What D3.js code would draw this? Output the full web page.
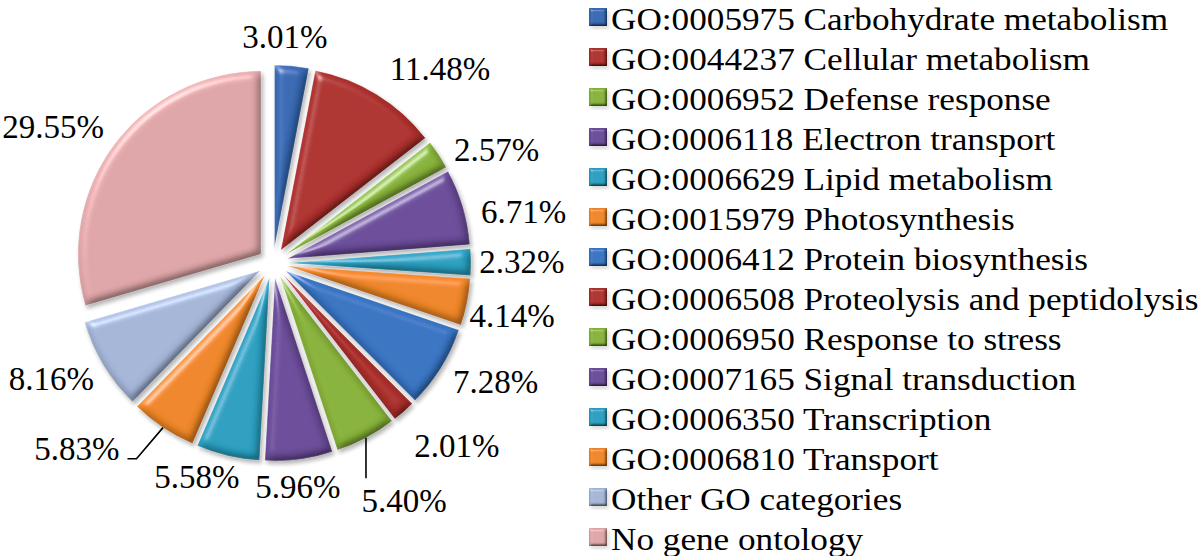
<!DOCTYPE html>
<html>
<head>
<meta charset="utf-8">
<script src="https://cdn.jsdelivr.net/npm/d3@7/dist/d3.min.js"></script>
<style>
  html, body { margin: 0; padding: 0; background: #ffffff; }
  svg { display: block; }
</style>
</head>
<body>
<svg id="chart" width="1200" height="556"></svg>
<script>
// ---------------- data ----------------
const categories = [
  "GO:0005975 Carbohydrate metabolism",
  "GO:0044237 Cellular metabolism",
  "GO:0006952 Defense response",
  "GO:0006118 Electron transport",
  "GO:0006629 Lipid metabolism",
  "GO:0015979 Photosynthesis",
  "GO:0006412 Protein biosynthesis",
  "GO:0006508 Proteolysis and peptidolysis",
  "GO:0006950 Response to stress",
  "GO:0007165 Signal transduction",
  "GO:0006350 Transcription",
  "GO:0006810 Transport",
  "Other GO categories",
  "No gene ontology"
];
const values = [3.01, 11.48, 2.57, 6.71, 2.32, 4.14, 7.28, 2.01, 5.40, 5.96, 5.58, 5.83, 8.16, 29.55];
const percentLabels = values.map(v => v.toFixed(2) + "%");

// ---------------- styling / layout ----------------
const FONT = "Liberation Serif";
const colors = ["#3769b2", "#ad302d", "#88b23a", "#6b4c99", "#2a9fbf", "#ee8626",
                "#3874c2", "#ad302d", "#88b23a", "#6b4c99", "#2a9fbf", "#ee8626",
                "#a4b5d7", "#dfa6a8"];
// label placement: angular shift (deg) from slice mid-angle and radius
const labelShift  = [-2.4, 9.2, 6.2, 4.8, 0, 1.1, -4.0, -3.9, -0.9, 1.2, 6.4, 12.8, 3.5, -4.9];
const labelRadius = [227, 256, 251, 256, 249, 245, 252, 259, 271, 225, 227, 270, 250, 259];

const cx = 273, cy = 263, R = 183, explode = 15;

const svg = d3.select("#chart");
const defs = svg.append("defs");

function bevelFilter(id, blur, scale, shadow) {
  const f = defs.append("filter").attr("id", id)
    .attr("x", "-20%").attr("y", "-20%").attr("width", "140%").attr("height", "140%");
  f.append("feGaussianBlur").attr("in", "SourceAlpha").attr("stdDeviation", blur).attr("result", "blur");
  const spec = f.append("feSpecularLighting").attr("in", "blur")
    .attr("surfaceScale", scale).attr("specularConstant", 0.6).attr("specularExponent", 40)
    .attr("lighting-color", "#ffffff").attr("result", "spec");
  spec.append("feDistantLight").attr("azimuth", 235).attr("elevation", 40);
  f.append("feComposite").attr("in", "spec").attr("in2", "SourceAlpha").attr("operator", "in").attr("result", "specIn");
  const diff = f.append("feDiffuseLighting").attr("in", "blur")
    .attr("surfaceScale", scale).attr("diffuseConstant", 1.0)
    .attr("lighting-color", "#ffffff").attr("result", "diff");
  diff.append("feDistantLight").attr("azimuth", 235).attr("elevation", 60);
  f.append("feComposite").attr("in", "SourceGraphic").attr("in2", "diff")
    .attr("operator", "arithmetic").attr("k1", 1.155).attr("k2", 0).attr("k3", 0).attr("k4", 0).attr("result", "lit");
  f.append("feComposite").attr("in", "specIn").attr("in2", "lit")
    .attr("operator", "arithmetic").attr("k1", 0).attr("k2", 0.6).attr("k3", 1).attr("k4", 0).attr("result", "bev");
  f.append("feComposite").attr("in", "bev").attr("in2", "SourceAlpha").attr("operator", "in").attr("result", "bevIn");
  f.append("feGaussianBlur").attr("in", "SourceAlpha").attr("stdDeviation", 2).attr("result", "sb");
  f.append("feOffset").attr("in", "sb").attr("dx", 2).attr("dy", 3).attr("result", "so");
  f.append("feComponentTransfer").attr("in", "so").attr("result", "shadow")
    .append("feFuncA").attr("type", "linear").attr("slope", shadow);
  const m = f.append("feMerge");
  m.append("feMergeNode").attr("in", "shadow");
  m.append("feMergeNode").attr("in", "bevIn");
}
bevelFilter("bevel", 4, 5, 0.3);
bevelFilter("bevelSmall", 1.5, 3, 0.15);

// ---------------- pie ----------------
const pie = d3.pie().sort(null).value(d => d).startAngle(0).endAngle(2 * Math.PI);
const arcs = pie(values);
const arc = d3.arc().innerRadius(0).outerRadius(R);

const g = svg.append("g").attr("transform", `translate(${cx},${cy})`);

function mid(d) { return (d.startAngle + d.endAngle) / 2; }

g.selectAll("path.slice")
  .data(arcs)
  .enter().append("path")
  .attr("class", "slice")
  .attr("d", arc)
  .attr("fill", (d, i) => colors[i])
  .attr("stroke", "rgba(255,255,255,0.45)")
  .attr("stroke-width", 0.8)
  .attr("filter", "url(#bevel)")
  .attr("transform", d => {
    const a = mid(d);
    return `translate(${explode * Math.sin(a)},${-explode * Math.cos(a)})`;
  });

// ---------------- labels ----------------
const labelFont = 33, labelSX = 1.0;
const labelPos = arcs.map((d, i) => {
  const a = mid(d) + labelShift[i] * Math.PI / 180;
  const r = labelRadius[i];
  return [r * Math.sin(a), -r * Math.cos(a)];
});

const lbl = g.selectAll("g.lbl")
  .data(arcs)
  .enter().append("g")
  .attr("class", "lbl")
  .attr("transform", (d, i) => `translate(${labelPos[i][0]},${labelPos[i][1]}) scale(${labelSX},1)`);
lbl.append("text")
  .attr("text-anchor", "middle")
  .attr("dy", "0.35em")
  .attr("font-family", FONT)
  .attr("font-size", labelFont)
  .attr("fill", "#000")
  .text((d, i) => percentLabels[i]);

// leader lines for the two labels placed away from their slices
function edgePoint(d) {
  const a = mid(d);
  const rr = R + explode;
  return [rr * Math.sin(a), -rr * Math.cos(a)];
}
{
  const i = 8, p = edgePoint(arcs[i]);
  g.append("path")
    .attr("d", d3.line()([[p[0], p[1]], [p[0], labelPos[i][1] - 22]]))
    .attr("fill", "none").attr("stroke", "#000").attr("stroke-width", 1.6);
}
{
  const i = 11, p = edgePoint(arcs[i]);
  const half = 87 * labelSX / 2;
  const ly = labelPos[i][1] + 10;
  const lx = labelPos[i][0] + half;
  g.append("path")
    .attr("d", d3.line()([[p[0], p[1]], [lx + 16, ly], [lx + 7, ly]]))
    .attr("fill", "none").attr("stroke", "#000").attr("stroke-width", 1.6);
}

// ---------------- legend ----------------
const legendX = 589, legendTop = 30, legendStep = 40, sw = 18;
const legendSX = 1.1, legendFont = 32;
const legendY = d3.scalePoint().domain(d3.range(categories.length))
  .range([legendTop, legendTop + legendStep * (categories.length - 1)]);

const lg = svg.append("g");
const rows = lg.selectAll("g.row").data(categories).enter().append("g").attr("class", "row")
  .attr("transform", (d, i) => `translate(${legendX},${legendY(i)})`);
rows.append("rect")
  .attr("x", 0).attr("y", -22).attr("width", sw).attr("height", sw)
  .attr("fill", (d, i) => colors[i])
  .attr("filter", "url(#bevelSmall)");
rows.append("text")
  .attr("transform", `translate(22,0) scale(${legendSX},1)`)
  .attr("font-family", FONT)
  .attr("font-size", legendFont)
  .attr("fill", "#000")
  .text(d => d);
</script>
</body>
</html>
